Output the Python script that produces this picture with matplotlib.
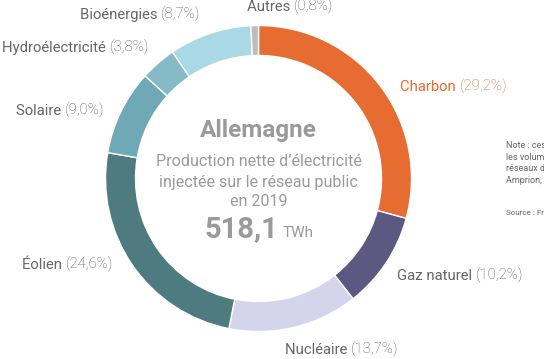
import matplotlib
matplotlib.use('Agg')
import matplotlib.pyplot as plt

plt.rcParams['font.family'] = ['Roboto', 'DejaVu Sans']

sources = ['Charbon', 'Gaz naturel', 'Nucléaire', 'Éolien', 'Solaire',
           'Hydroélectricité', 'Bioénergies', 'Autres']
shares = [29.2, 10.2, 13.7, 24.6, 9.0, 3.8, 8.7, 0.8]
share_labels = ['(29,2%)', '(10,2%)', '(13,7%)', '(24,6%)', '(9,0%)',
                '(3,8%)', '(8,7%)', '(0,8%)']
colors = ['#E76C31', '#5C5882', '#D4D4EC', '#4E7B7F', '#6FA9B6',
          '#86BAC6', '#A9D9E4', '#BDBDBD']
# label anchor (left x, center y) in image pixels
label_pos = [(400, 87), (397, 276), (285, 350), (22, 265), (16, 111),
             (2, 48), (80, 15), (247, 7)]

W, H = 544, 359
fig = plt.figure(figsize=(W / 100, H / 100), dpi=100)
ax = fig.add_axes([0, 0, 1, 1])

def Y(y):
    return H - y

cx, cy, R = 258.5, 178.5, 153
ax.pie(shares, colors=colors, startangle=90, counterclock=False,
       center=(cx, Y(cy)), radius=R,
       wedgeprops=dict(width=30, edgecolor='white', linewidth=1))
ax.set_xlim(0, W)
ax.set_ylim(0, H)
ax.set_aspect('auto')
ax.axis('off')

grey = '#666666'
for name, pct, (x, y) in zip(sources, share_labels, label_pos):
    c = '#E76C31' if name == 'Charbon' else grey
    c2 = '#E0642A' if name == 'Charbon' else '#555555'
    t = ax.text(x, Y(y), name + ' ', fontsize=10.7, color=c, ha='left', va='center')
    ax.annotate(pct, xy=(1, 0), xycoords=t, fontsize=10.7, color=c2,
                fontweight='light', ha='left', va='bottom')

# centre text
ctext = '#9a9a9a'
ax.text(cx, Y(131), 'Allemagne', fontsize=17.5, fontweight='bold', color=ctext,
        ha='center', va='center')
for line, y in zip(['Production nette d\u2019électricité',
                    'injectée sur le réseau public', 'en 2019'], [162, 182, 201]):
    ax.text(cx, Y(y), line, fontsize=11.6, color=ctext, ha='center', va='center')
ax.text(278, Y(237), '518,1', fontsize=21, fontweight='bold', color=ctext,
        ha='right', va='baseline')
ax.text(283, Y(237), 'TWh', fontsize=11, color=ctext, ha='left', va='baseline')

# note on the right (cut by the figure edge, as in the original)
note = ['Note : ces chiffres représentent', 'les volumes injectés sur les',
        'réseaux des 4 GRT (50Hertz,', 'Amprion, TenneT, TransnetBW)']
for i, line in enumerate(note):
    ax.text(506, Y(146 + i * 11.3), line, fontsize=6.5, color=grey,
            ha='left', va='center')
ax.text(506, Y(213), 'Source : Fraunhofer ISE', fontsize=5.8, color=grey,
        ha='left', va='center')

fig.savefig('out.png', dpi=100)
